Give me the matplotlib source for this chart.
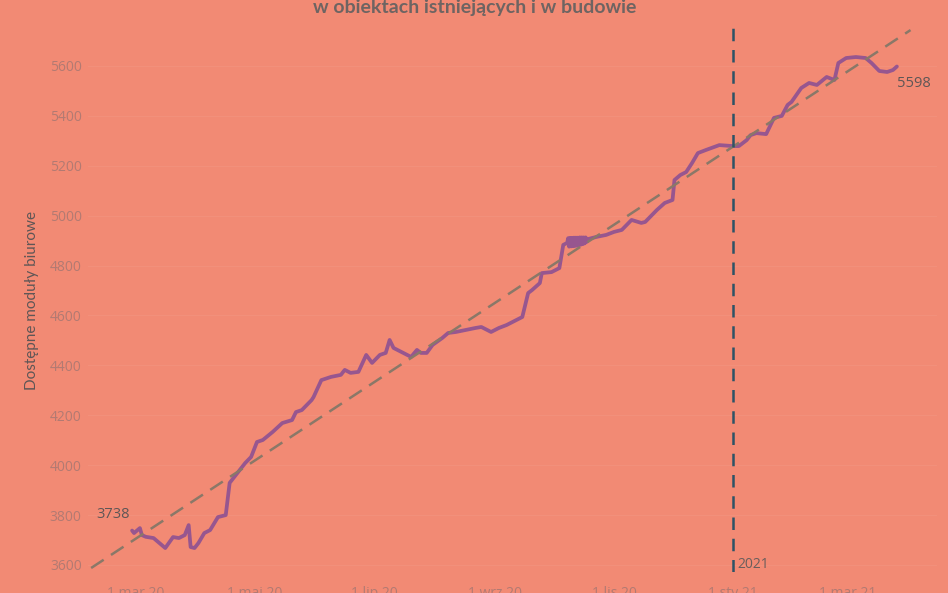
import matplotlib
matplotlib.use("Agg")
import matplotlib.pyplot as plt
import pandas as pd

plt.rcParams['font.family'] = ['Lato', 'DejaVu Sans']

# ---- data ----
title = "w obiektach istniejących i w budowie"
y_label = "Dostępne moduły biurowe"
dates = [
    "2020-02-28", "2020-02-29", "2020-03-03", "2020-03-04", "2020-03-06", "2020-03-10",
    "2020-03-16", "2020-03-20", "2020-03-23", "2020-03-26", "2020-03-28", "2020-03-29",
    "2020-03-31", "2020-04-02", "2020-04-05", "2020-04-08", "2020-04-12", "2020-04-16",
    "2020-04-18", "2020-04-22", "2020-04-26", "2020-04-29", "2020-05-02", "2020-05-05",
    "2020-05-10", "2020-05-15", "2020-05-20", "2020-05-22", "2020-05-25", "2020-05-30",
    "2020-05-31", "2020-06-04", "2020-06-09", "2020-06-14", "2020-06-16", "2020-06-19",
    "2020-06-23", "2020-06-27", "2020-06-30", "2020-07-04", "2020-07-07", "2020-07-09",
    "2020-07-11", "2020-07-15", "2020-07-20", "2020-07-23", "2020-07-25", "2020-07-28",
    "2020-07-31", "2020-08-05", "2020-08-08", "2020-08-12", "2020-08-17", "2020-08-22",
    "2020-08-25", "2020-08-30", "2020-09-03", "2020-09-07", "2020-09-15", "2020-09-18",
    "2020-09-20", "2020-09-24", "2020-09-25", "2020-09-30", "2020-10-04", "2020-10-06",
    "2020-10-08 00:00", "2020-10-08 12:00", "2020-10-09 00:00", "2020-10-09 12:00",
    "2020-10-10 00:00", "2020-10-10 12:00", "2020-10-11 00:00", "2020-10-11 12:00",
    "2020-10-12 00:00", "2020-10-12 12:00", "2020-10-13 00:00", "2020-10-13 12:00",
    "2020-10-14 00:00", "2020-10-14 12:00", "2020-10-15 00:00", "2020-10-15 12:00",
    "2020-10-16 00:00", "2020-10-16 12:00", "2020-10-17 00:00", "2020-10-17 12:00",
    "2020-10-18 00:00", "2020-10-19", "2020-10-23",
    "2020-10-28", "2020-11-01", "2020-11-05", "2020-11-10", "2020-11-15", "2020-11-17",
    "2020-11-23", "2020-11-27", "2020-12-01", "2020-12-02", "2020-12-05", "2020-12-08",
    "2020-12-11", "2020-12-14", "2020-12-18", "2020-12-25", "2021-01-01", "2021-01-04",
    "2021-01-08", "2021-01-10", "2021-01-13", "2021-01-18", "2021-01-22", "2021-01-26",
    "2021-01-29", "2021-01-31", "2021-02-05", "2021-02-09", "2021-02-13", "2021-02-18",
    "2021-02-22", "2021-02-24", "2021-02-28", "2021-03-05", "2021-03-10", "2021-03-13",
    "2021-03-17", "2021-03-21", "2021-03-24", "2021-03-26",
]
values = [
    3738, 3728, 3748, 3720, 3713, 3708,
    3668, 3712, 3708, 3720, 3760, 3672,
    3668, 3688, 3728, 3740, 3792, 3800,
    3929, 3969, 4009, 4033, 4093, 4101,
    4133, 4169, 4181, 4213, 4221, 4261,
    4273, 4341, 4354, 4362, 4382, 4370,
    4374, 4442, 4410, 4442, 4450, 4502,
    4470, 4454, 4434, 4462, 4450, 4450,
    4482, 4510, 4530, 4534, 4542, 4550,
    4554, 4534, 4550, 4562, 4594, 4690,
    4702, 4730, 4770, 4774, 4790, 4883,
    4891, 4910, 4876, 4911, 4877, 4911,
    4878, 4912, 4879, 4912, 4880, 4912,
    4882, 4913, 4884, 4913, 4886, 4913,
    4889, 4913, 4895, 4907, 4915,
    4923, 4935, 4943, 4983, 4971, 4975,
    5023, 5051, 5063, 5143, 5163, 5175,
    5211, 5251, 5263, 5283, 5279, 5279,
    5303, 5323, 5331, 5327, 5392, 5400,
    5444, 5456, 5512, 5532, 5524, 5556,
    5544, 5612, 5632, 5636, 5632, 5612,
    5580, 5576, 5584, 5598,
]
trend_dates = ["2020-02-07", "2021-04-02"]
trend_values = [3588, 5744]
ref_date = "2021-01-01"
ref_label = "2021"
x_ticks = ["2020-03-01", "2020-05-01", "2020-07-01", "2020-09-01",
           "2020-11-01", "2021-01-01", "2021-03-01"]
x_tick_labels = ["1 mar 20", "1 maj 20", "1 lip 20", "1 wrz 20",
                 "1 lis 20", "1 sty 21", "1 mar 21"]
y_ticks = [3600, 3800, 4000, 4200, 4400, 4600, 4800, 5000, 5200, 5400, 5600]

# ---- style ----
BG = "#F28A74"
LINE = "#97568F"
TREND = "#8A7868"
REF = "#2D5366"
TICK = "#B27A72"
DARK = "#5E5656"
TICKFONT = ['Open Sans', 'DejaVu Sans']

W, H = 948, 593
fig = plt.figure(figsize=(W / 100, H / 100), dpi=100, facecolor=BG)
ax_l, ax_r, ax_t, ax_b = 88, 937, 28, 572
ax = fig.add_axes([ax_l / W, 1 - ax_b / H, (ax_r - ax_l) / W, (ax_b - ax_t) / H])
ax.set_facecolor(BG)

d = pd.to_datetime(dates, format="mixed")
ax.plot(d, values, color=LINE, lw=2.7, solid_joinstyle="round",
        solid_capstyle="round", zorder=3)
ax.plot(pd.to_datetime(trend_dates), trend_values, color=TREND, lw=1.8,
        dashes=(6, 3.5), zorder=4)

ref = pd.Timestamp(ref_date)
ax.axvline(ref, color=REF, lw=1.8, dashes=(5, 3.5), zorder=5)
ax.annotate(ref_label, xy=(ref, 3600), xytext=(3, 0), textcoords="offset points",
            ha="left", va="center", fontsize=10, color="#6A5E5C",
            family=TICKFONT)

# end labels
ax.annotate(f"{values[0]}", xy=(d[0], values[0]), xytext=(-1.5, 11.5),
            textcoords="offset points", ha="right", va="center",
            fontsize=10.5, color=DARK, family=TICKFONT)
ax.annotate(f"{values[-1]}", xy=(d[-1], values[-1]), xytext=(0, -12.5),
            textcoords="offset points", ha="left", va="center",
            fontsize=10.5, color=DARK, family=TICKFONT)

# axes limits so that 1 mar 20 -> x=136 px, 1 sty 21 -> x=733 px
p0, p1 = pd.Timestamp("2020-03-01"), pd.Timestamp("2021-01-01")
px_per_day = (733 - 136) / (p1 - p0).days
xmin = p0 - pd.Timedelta(days=(136 - ax_l) / px_per_day)
xmax = p1 + pd.Timedelta(days=(ax_r - 733) / px_per_day)
ax.set_xlim(xmin, xmax)
px_per_unit = (565 - 66) / 2000
ax.set_ylim(3600 - (ax_b - 565) / px_per_unit, 3600 + (565 - ax_t) / px_per_unit)

ax.set_yticks(y_ticks)
ax.set_yticklabels([str(v) for v in y_ticks])
ax.set_xticks(pd.to_datetime(x_ticks))
ax.set_xticklabels(x_tick_labels)
ax.tick_params(axis="both", length=0, colors=TICK, labelsize=10)
for lab in ax.get_xticklabels() + ax.get_yticklabels():
    lab.set_family(TICKFONT)
ax.tick_params(axis="y", pad=4.5)
ax.tick_params(axis="x", pad=10)

ax.grid(axis="y", color="#F3917C", lw=0.7, zorder=0)
ax.grid(axis="x", visible=False)
for s in ax.spines.values():
    s.set_visible(False)

ax.set_ylabel(y_label, color=DARK, fontsize=11, labelpad=8)

fig.text(475 / W, 1 - 8 / H, title, ha="center", va="center",
         fontsize=14, fontweight="bold", color="#6E6462")

fig.savefig("out.png", dpi=100, facecolor=BG)
